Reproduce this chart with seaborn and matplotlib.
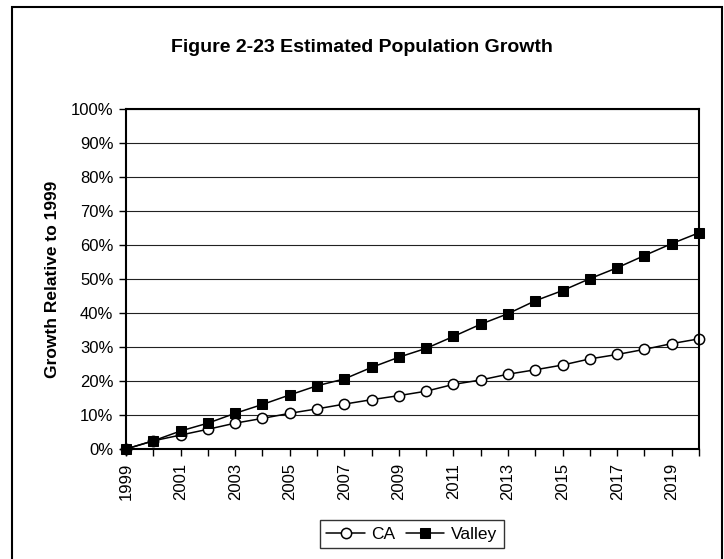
import matplotlib
matplotlib.use("Agg")
import matplotlib.pyplot as plt
from matplotlib.patches import Rectangle
from matplotlib.ticker import FuncFormatter, MultipleLocator
import seaborn as sns
import pandas as pd

years = list(range(1999, 2021))
ca_growth = [0.0, 2.4, 4.1, 5.8, 7.6, 9.0, 10.5, 11.8, 13.2, 14.5, 15.7,
             17.0, 19.0, 20.3, 22.0, 23.3, 24.7, 26.5, 27.8, 29.3, 31.0, 32.4]
valley_growth = [0.0, 2.4, 5.3, 7.6, 10.5, 13.1, 15.9, 18.6, 20.6, 24.0, 27.0,
                 29.6, 33.1, 36.7, 39.8, 43.6, 46.6, 50.1, 53.3, 56.9, 60.4, 63.6]
series_names = ["CA", "Valley"]
title = "Figure 2-23 Estimated Population Growth"
ylabel = "Growth Relative to 1999"

sns.set_style("white")
plt.rcParams["font.family"] = ["Liberation Sans", "DejaVu Sans"]
plt.rcParams["text.color"] = "black"
plt.rcParams["axes.labelcolor"] = "black"
plt.rcParams["xtick.color"] = "black"
plt.rcParams["ytick.color"] = "black"

df = pd.DataFrame({
    "Year": years * 2,
    "Growth": ca_growth + valley_growth,
    "Series": [series_names[0]] * len(years) + [series_names[1]] * len(years),
})

fig = plt.figure(figsize=(7.24, 5.59), dpi=100)
ax = fig.add_axes([126 / 724, 1 - 449 / 559, 573 / 724, 340 / 559])

# horizontal gridlines behind the data
ax.set_axisbelow(True)
ax.yaxis.grid(True, color="#222222", linewidth=0.8)
ax.xaxis.grid(False)

sns.lineplot(data=df[df.Series == "CA"], x="Year", y="Growth", ax=ax,
             color="black", linewidth=1.1, marker="o", markersize=7.4,
             markerfacecolor="white", markeredgecolor="black",
             markeredgewidth=1.1, label="CA", clip_on=False)
sns.lineplot(data=df[df.Series == "Valley"], x="Year", y="Growth", ax=ax,
             color="black", linewidth=1.1, marker="s", markersize=7.6,
             markerfacecolor="black", markeredgecolor="black",
             label="Valley", clip_on=False)

ax.set_xlim(1999, 2020)
ax.set_ylim(0, 100)
ax.yaxis.set_major_locator(MultipleLocator(10))
ax.yaxis.set_major_formatter(FuncFormatter(lambda v, p: f"{v:.0f}%"))
ax.set_xticks(years)
ax.set_xticklabels([str(y) if (y - 1999) % 2 == 0 else "" for y in years],
                   rotation=90)
ax.tick_params(axis="both", which="major", direction="out", length=5,
               width=1, color="black", labelsize=12, pad=4,
               labelcolor="black")
ax.tick_params(axis="x", pad=5)
ax.tick_params(axis="both", bottom=True, left=True)

for side in ["left", "bottom", "right", "top"]:
    ax.spines[side].set_visible(True)
    ax.spines[side].set_color("black")
    ax.spines[side].set_linewidth(1.5)

ax.set_xlabel("")
ax.set_ylabel(ylabel, fontsize=12.5, fontweight="bold", color="black")
ax.yaxis.set_label_coords(-0.115, 0.5)

fig.text(362 / 724, 1 - 47 / 559, title, ha="center", va="center",
         fontsize=14, fontweight="bold", color="black")

leg = ax.legend(loc="center", bbox_to_anchor=(412 / 724, 1 - 534 / 559),
                bbox_transform=fig.transFigure, ncol=2, frameon=True,
                fancybox=False, edgecolor="black", fontsize=12.5,
                handlelength=2.2, handletextpad=0.4, columnspacing=0.6,
                borderpad=0.35)
leg.get_frame().set_linewidth(1.0)
for t in leg.get_texts():
    t.set_color("black")

# outer chart border
fig.patches.append(Rectangle((12 / 724, -0.05), 710 / 724, 1.05 - 7 / 559,
                             transform=fig.transFigure, fill=False,
                             edgecolor="black", linewidth=1.5))

fig.savefig("out.png", dpi=100)
